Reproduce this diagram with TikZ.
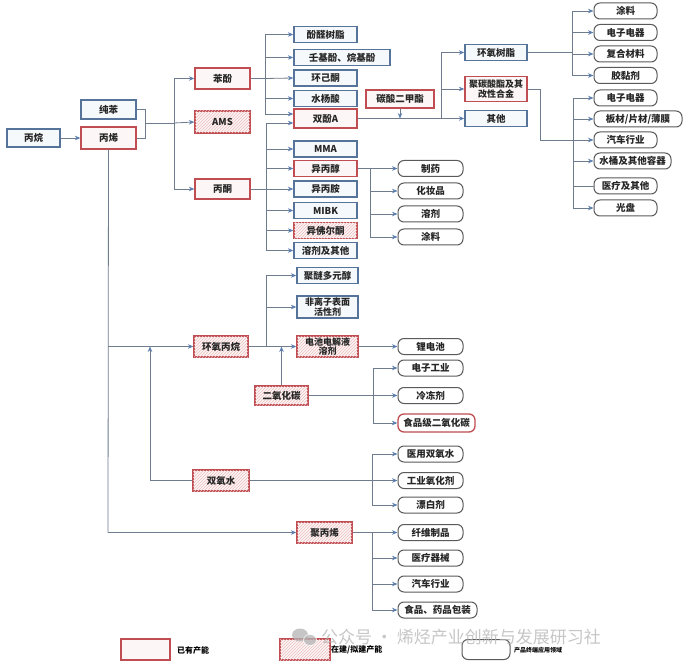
\documentclass[tikz,border=0pt]{standalone}
\usepackage{fontspec}
\setmainfont{Noto Sans CJK SC}
\usetikzlibrary{patterns,arrows.meta,calc}
\definecolor{bluec}{HTML}{56739A}
\definecolor{bluefill}{HTML}{F6F9FC}
\definecolor{redc}{HTML}{BF4D52}
\definecolor{redfill}{HTML}{FDF6F6}
\definecolor{hatchc}{HTML}{EBBDBF}
\definecolor{grayc}{HTML}{5A5A5A}
\definecolor{linec}{HTML}{6E7C8E}
\definecolor{arrowc}{HTML}{5B7FAE}
\definecolor{wmc}{HTML}{B4B4B4}
\begin{document}
\begin{tikzpicture}[x=1pt,y=-1pt,
  bx/.style={draw, line width=1.3pt, inner sep=0pt, align=center, text=black!85,
     font=\fontsize{9.5}{10.5}\selectfont\bfseries},
  bluebox/.style={bx, draw=bluec, fill=bluefill},
  redbox/.style={bx, draw=redc, fill=redfill},
  hatchbox/.style={redbox, postaction={pattern=north east lines, pattern color=hatchc}},
  rbox/.style={bx, draw=grayc, fill=white, rounded corners=6pt, line width=1pt},
  rredbox/.style={rbox, draw=redc, line width=1.3pt},
  ln/.style={draw=linec, line width=0.8pt},
  arr/.style={ln, -{Stealth[length=5.5pt,width=4.5pt,color=arrowc]}},
  two/.style={font=\fontsize{9}{9.5}\selectfont\bfseries}
]
\useasboundingbox (0,0) rectangle (688,668);
\fill[white] (0,0) rectangle (688,668);

% ---- left column
\node[bluebox,minimum width=53,minimum height=18] (bingwan) at (33.5,138) {丙烷};
\node[bluebox,minimum width=55,minimum height=19] (chunben) at (108.5,109.5) {纯苯};
\node[redbox,minimum width=55,minimum height=22] (bingxi) at (108.5,138) {丙烯};

% ---- second column
\node[redbox,minimum width=55,minimum height=21] (benfen) at (222.5,78.5) {苯酚};
\node[hatchbox,minimum width=55,minimum height=22] (ams) at (222.5,122) {AMS};
\node[redbox,minimum width=55,minimum height=20] (bingtong) at (222.5,189) {丙酮};
\node[hatchbox,minimum width=54,minimum height=21] (hybw) at (221,346.5) {环氧丙烷};
\node[hatchbox,minimum width=56,minimum height=21] (syy) at (221,480.5) {双氧水};

% ---- third column
\node[bluebox,minimum width=63,minimum height=16] (pfsz) at (325.5,34.5) {酚醛树脂};
\node[bluebox,minimum width=96,minimum height=16] (rjf) at (342,57.5) {壬基酚、烷基酚};
\node[bluebox,minimum width=63,minimum height=16] (hjt) at (325.5,78) {环己酮};
\node[bluebox,minimum width=63,minimum height=16] (syj) at (325.5,98.5) {水杨酸};
\node[redbox,minimum width=63,minimum height=19] (sfa) at (325.5,118.5) {双酚A};
\node[bluebox,minimum width=63,minimum height=16] (mma) at (325.5,149) {MMA};
\node[redbox,minimum width=63,minimum height=16] (ybc) at (325.5,168.5) {异丙醇};
\node[bluebox,minimum width=63,minimum height=16] (yba) at (325.5,189) {异丙胺};
\node[bluebox,minimum width=63,minimum height=16] (mibk) at (325.5,210.5) {MIBK};
\node[hatchbox,minimum width=63,minimum height=16] (yfet) at (325.5,230.5) {异佛尔酮};
\node[bluebox,minimum width=63,minimum height=16] (rjqt) at (325.5,250.5) {溶剂及其他};

\node[bluebox,minimum width=61,minimum height=16] (jmdy) at (327.5,275.5) {聚醚多元醇};
\node[bluebox,two,minimum width=61,minimum height=22] (flz) at (327.5,307) {非离子表面\\活性剂};
\node[hatchbox,two,minimum width=61,minimum height=21] (dcdj) at (327.5,346.5) {电池电解液\\溶剂};
\node[hatchbox,minimum width=53,minimum height=19] (co2) at (281.5,395.5) {二氧化碳};
\node[hatchbox,minimum width=55,minimum height=21] (pp) at (324.5,532.5) {聚丙烯};

% ---- BPA derivatives
\node[redbox,minimum width=68,minimum height=18] (dmc) at (400,99) {碳酸二甲酯};
\node[bluebox,minimum width=62,minimum height=16] (hysz) at (496,52.5) {环氧树脂};
\node[redbox,two,minimum width=62,minimum height=25] (pc) at (496,89) {聚碳酸酯及其\\改性合金};
\node[bluebox,minimum width=62,minimum height=16] (qt) at (496,118.5) {其他};

% ---- right rounded column
\node[rbox,minimum width=63,minimum height=16] (tl1) at (625.5,11) {涂料};
\node[rbox,minimum width=63,minimum height=16] (dz1) at (625.5,32.5) {电子电器};
\node[rbox,minimum width=63,minimum height=16] (fh) at (625.5,54) {复合材料};
\node[rbox,minimum width=63,minimum height=16] (jnj) at (625.5,75.5) {胶黏剂};
\node[rbox,minimum width=63,minimum height=16] (dz2) at (625.5,98) {电子电器};
\node[rbox,minimum width=88,minimum height=16] (bc) at (638,119) {板材/片材/薄膜};
\node[rbox,minimum width=63,minimum height=16] (qc1) at (625.5,140) {汽车行业};
\node[rbox,minimum width=77,minimum height=16] (st) at (632.5,161) {水桶及其他容器};
\node[rbox,minimum width=63,minimum height=16] (yl) at (625.5,186) {医疗及其他};
\node[rbox,minimum width=63,minimum height=16] (gp) at (625.5,208) {光盘};

% ---- middle rounded column
\node[rbox,minimum width=65,minimum height=16] (zy) at (430.5,168.5) {制药};
\node[rbox,minimum width=65,minimum height=16] (hzp) at (430.5,191) {化妆品};
\node[rbox,minimum width=65,minimum height=16] (rj) at (430.5,214) {溶剂};
\node[rbox,minimum width=65,minimum height=16] (tl2) at (430.5,237) {涂料};
\node[rbox,minimum width=65,minimum height=16] (ldc) at (430.5,346.5) {锂电池};
\node[rbox,minimum width=65,minimum height=16] (dzgy) at (430.5,368) {电子工业};
\node[rbox,minimum width=65,minimum height=16] (lcj) at (430.5,395.5) {冷冻剂};
\node[rredbox,minimum width=77,minimum height=18] (spj) at (436.5,423) {食品级二氧化碳};
\node[rbox,minimum width=65,minimum height=16] (yysyy) at (430.5,454) {医用双氧水};
\node[rbox,minimum width=65,minimum height=16] (gyyhj) at (430.5,480.5) {工业氧化剂};
\node[rbox,minimum width=65,minimum height=16] (pbj) at (430.5,505) {漂白剂};
\node[rbox,minimum width=65,minimum height=16] (xwzp) at (430.5,532.5) {纤维制品};
\node[rbox,minimum width=65,minimum height=16] (ylqx) at (430.5,558) {医疗器械};
\node[rbox,minimum width=65,minimum height=16] (qc2) at (430.5,584) {汽车行业};
\node[rbox,minimum width=79,minimum height=16] (spbz) at (437.5,610) {食品、药品包装};

% ---- junction coordinates
\coordinate (j1) at (145,123);
\coordinate (t1) at (174,123);
\coordinate (t2) at (265,78.5);
\coordinate (t3) at (266,189);
\coordinate (t4) at (370,168.5);
\coordinate (t5) at (441,118.5);
\coordinate (t6) at (572,52.5);
\coordinate (t7) at (573,140);
\coordinate (t7b) at (540,140);
\coordinate (t8) at (108,346.5);
\coordinate (t9) at (266,346.5);
\coordinate (t10) at (373,395.5);
\coordinate (t11) at (372,480.5);
\coordinate (t12) at (372,532.5);
\coordinate (t13) at (108,532.5);
\coordinate (t14) at (150,346.5);

% ---- connectors
\draw[arr] (bingwan.east) -- (bingxi.west);
\draw[ln] (chunben.east) -| (j1);
\draw[ln] (bingxi.east) -| (j1);
\draw[ln] (j1) -- (t1);
\draw[arr] (t1) |- (benfen.west);
\draw[arr] (t1) -- (ams.west);
\draw[arr] (t1) |- (bingtong.west);

\draw[ln] (benfen.east) -- (t2);
\draw[arr] (t2) |- (pfsz.west);
\draw[arr] (t2) |- (rjf.west);
\draw[arr] (t2) -- (hjt.west);
\draw[arr] (t2) |- (syj.west);
\draw[arr] (t2) |- ([yshift=4.5pt]sfa.west);

\draw[arr] (bingtong.east) -- (yba.west);
\draw[arr] (t3) |- ([yshift=-4.5pt]sfa.west);
\draw[arr] (t3) |- (mma.west);
\draw[arr] (t3) |- (ybc.west);
\draw[arr] (t3) |- (mibk.west);
\draw[arr] (t3) |- (yfet.west);
\draw[arr] (t3) |- (rjqt.west);

\draw[arr] (ybc.east) -- (zy.west);
\draw[arr] (t4) |- (hzp.west);
\draw[arr] (t4) |- (rj.west);
\draw[arr] (t4) |- (tl2.west);

\draw[arr] (sfa.east) -- (qt.west);
\draw[arr] (dmc.south) -- (dmc.south |- sfa.east);
\draw[arr] (t5) |- (hysz.west);
\draw[arr] (t5) |- (pc.west);

\draw[ln] (hysz.east) -- (t6);
\draw[arr] (t6) |- (tl1.west);
\draw[arr] (t6) |- (dz1.west);
\draw[arr] (t6) |- (fh.west);
\draw[arr] (t6) |- (jnj.west);

\draw[arr] (pc.east) -| (t7b) -- (qc1.west);
\draw[arr] (t7) |- (dz2.west);
\draw[arr] (t7) |- (bc.west);
\draw[arr] (t7) |- (st.west);
\draw[ln] (t7) |- (yl.west);
\draw[arr] (t7) |- (gp.west);

% propylene trunk
\draw[ln] (bingxi.south) -- (t13);
\draw[arr] (t13) -- (pp.west);
\draw[arr] (t8) -- (hybw.west);
\draw[arr] (syy.west) -| (t14);

\draw[arr] (hybw.east) -- (dcdj.west);
\draw[arr] (t9) |- (jmdy.west);
\draw[arr] (t9) |- (flz.west);
\draw[arr] (co2.north) -- (co2.north |- hybw.east);
\draw[arr] (dcdj.east) -- (ldc.west);

\draw[arr] (co2.east) -- (lcj.west);
\draw[arr] (t10) |- (dzgy.west);
\draw[arr] (t10) |- (spj.west);

\draw[arr] (syy.east) -- (gyyhj.west);
\draw[arr] (t11) |- (yysyy.west);
\draw[arr] (t11) |- (pbj.west);

\draw[arr] (pp.east) -- (xwzp.west);
\draw[arr] (t12) |- (ylqx.west);
\draw[arr] (t12) |- (qc2.west);
\draw[arr] (t12) |- (spbz.west);

% ---- legend
\node[redbox,minimum width=49,minimum height=21] (lg1) at (145.5,649.5) {};
\node[anchor=west,font=\fontsize{8}{9}\selectfont\bfseries,inner sep=0pt] (lg1t) at (177,650) {已有产能};
\node[hatchbox,minimum width=50,minimum height=21] (lg2) at (305,649.5) {};
\node[anchor=west,font=\fontsize{8}{9}\selectfont\bfseries,inner sep=0pt] (lg2t) at (331,650) {在建/拟建产能};
\node[rbox,minimum width=48,minimum height=20] (lg3) at (486,649.5) {};
\node[anchor=west,font=\fontsize{6}{7}\selectfont\bfseries,inner sep=0pt] (lg3t) at (514,650) {产品终端应用领域};

% ---- watermark
\begin{scope}[opacity=0.75]
\fill[wmc] (300,635) ellipse (8 and 6.5);
\fill[wmc] (310,640) ellipse (6.5 and 5.5);
\draw[white,line width=0.8pt] (310,640) ellipse (6.5 and 5.5);
\node[anchor=west,inner sep=0pt,text=wmc,font=\fontsize{17}{18}\selectfont] (wm) at (321,637) {公众号 · 烯烃产业创新与发展研习社};
\end{scope}
\end{tikzpicture}
\end{document}
